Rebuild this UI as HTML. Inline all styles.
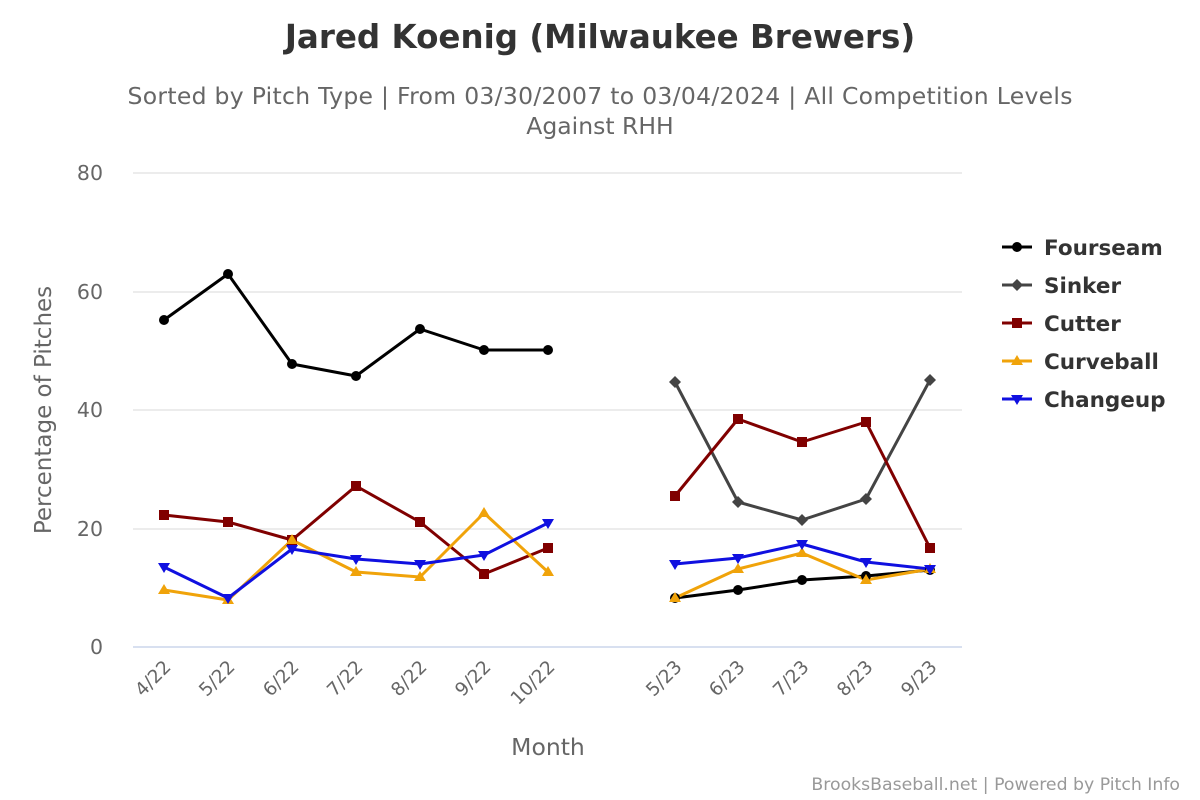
<!DOCTYPE html>
<html><head><meta charset="utf-8"><style>
html,body{margin:0;padding:0;background:#fff;}
svg{display:block;font-family:"DejaVu Sans","Liberation Sans",sans-serif;}
</style></head><body>
<svg width="1200" height="800" viewBox="0 0 1200 800" xmlns="http://www.w3.org/2000/svg">
<rect width="1200" height="800" fill="#fff"/>
<text x="600" y="48" text-anchor="middle" font-size="32.5" font-weight="bold" fill="#333">Jared Koenig (Milwaukee Brewers)</text>
<text x="600" y="104" text-anchor="middle" font-size="23.5" fill="#666" textLength="945">Sorted by Pitch Type | From 03/30/2007 to 03/04/2024 | All Competition Levels</text>
<text x="600" y="134" text-anchor="middle" font-size="23.5" fill="#666">Against RHH</text>
<g stroke="#e6e6e6" stroke-width="1.5">
<line x1="133" x2="962" y1="173" y2="173"/><line x1="133" x2="962" y1="292" y2="292"/>
<line x1="133" x2="962" y1="410" y2="410"/><line x1="133" x2="962" y1="529" y2="529"/>
</g>
<line x1="133" x2="962" y1="647" y2="647" stroke="#ccd6eb" stroke-width="1.5"/>
<g font-size="20.5" fill="#666" text-anchor="end">
<text x="103" y="180">80</text><text x="103" y="299">60</text><text x="103" y="417">40</text><text x="103" y="536">20</text><text x="103" y="654">0</text>
</g>
<text transform="translate(51,410) rotate(-90)" text-anchor="middle" font-size="23" fill="#666">Percentage of Pitches</text>
<text x="548" y="755" text-anchor="middle" font-size="23.5" fill="#666">Month</text>
<g font-size="18.5" fill="#666" text-anchor="end">
<text transform="translate(172,668) rotate(-45)">4/22</text>
<text transform="translate(236,668) rotate(-45)">5/22</text>
<text transform="translate(300,668) rotate(-45)">6/22</text>
<text transform="translate(364,668) rotate(-45)">7/22</text>
<text transform="translate(428,668) rotate(-45)">8/22</text>
<text transform="translate(492,668) rotate(-45)">9/22</text>
<text transform="translate(556,668) rotate(-45)">10/22</text>
<text transform="translate(683,668) rotate(-45)">5/23</text>
<text transform="translate(746,668) rotate(-45)">6/23</text>
<text transform="translate(810,668) rotate(-45)">7/23</text>
<text transform="translate(874,668) rotate(-45)">8/23</text>
<text transform="translate(938,668) rotate(-45)">9/23</text>
</g>
<g fill="none" stroke-width="3" stroke-linejoin="round">
<polyline stroke="#000" points="164,320 228,274 292,364 356,376 420,329 484,350 548,350"/>
<polyline stroke="#000" points="675,598 738,590 802,580 866,576 930,570"/>
<polyline stroke="#444" points="675,382 738,502 802,520 866,499 930,380"/>
<polyline stroke="#800000" points="164,515 228,522 292,540 356,486 420,522 484,574 548,548"/>
<polyline stroke="#800000" points="675,496 738,419 802,442 866,422 930,548"/>
<polyline stroke="#f0a30a" points="164,590 228,600 292,540 356,572 420,577 484,513 548,572"/>
<polyline stroke="#f0a30a" points="675,598 738,569 802,553 866,580 930,569"/>
<polyline stroke="#1010e0" points="164,567 228,598 292,549 356,559 420,564 484,555 548,523"/>
<polyline stroke="#1010e0" points="675,564 738,558 802,544 866,562 930,569"/>
</g>
<g fill="#000">
<circle cx="164" cy="320" r="5"/><circle cx="228" cy="274" r="5"/><circle cx="292" cy="364" r="5"/><circle cx="356" cy="376" r="5"/><circle cx="420" cy="329" r="5"/><circle cx="484" cy="350" r="5"/><circle cx="548" cy="350" r="5"/>
<circle cx="675" cy="598" r="5"/><circle cx="738" cy="590" r="5"/><circle cx="802" cy="580" r="5"/><circle cx="866" cy="576" r="5"/><circle cx="930" cy="570" r="5"/>
</g>
<g fill="#444">
<path d="M675,376 l6,6 -6,6 -6,-6z"/><path d="M738,496 l6,6 -6,6 -6,-6z"/><path d="M802,514 l6,6 -6,6 -6,-6z"/><path d="M866,493 l6,6 -6,6 -6,-6z"/><path d="M930,374 l6,6 -6,6 -6,-6z"/>
</g>
<g fill="#800000">
<rect x="159" y="510" width="10" height="10"/><rect x="223" y="517" width="10" height="10"/><rect x="287" y="535" width="10" height="10"/><rect x="351" y="481" width="10" height="10"/><rect x="415" y="517" width="10" height="10"/><rect x="479" y="569" width="10" height="10"/><rect x="543" y="543" width="10" height="10"/>
<rect x="670" y="491" width="10" height="10"/><rect x="733" y="414" width="10" height="10"/><rect x="797" y="437" width="10" height="10"/><rect x="861" y="417" width="10" height="10"/><rect x="925" y="543" width="10" height="10"/>
</g>
<g fill="#f0a30a">
<path d="M164,584 l6,10 -12,0z"/><path d="M228,594 l6,10 -12,0z"/><path d="M292,534 l6,10 -12,0z"/><path d="M356,566 l6,10 -12,0z"/><path d="M420,571 l6,10 -12,0z"/><path d="M484,507 l6,10 -12,0z"/><path d="M548,566 l6,10 -12,0z"/>
<path d="M675,592 l6,10 -12,0z"/><path d="M738,563 l6,10 -12,0z"/><path d="M802,547 l6,10 -12,0z"/><path d="M866,574 l6,10 -12,0z"/><path d="M930,563 l6,10 -12,0z"/>
</g>
<g fill="#1010e0">
<path d="M164,573 l6,-10 -12,0z"/><path d="M228,604 l6,-10 -12,0z"/><path d="M292,555 l6,-10 -12,0z"/><path d="M356,565 l6,-10 -12,0z"/><path d="M420,570 l6,-10 -12,0z"/><path d="M484,561 l6,-10 -12,0z"/><path d="M548,529 l6,-10 -12,0z"/>
<path d="M675,570 l6,-10 -12,0z"/><path d="M738,564 l6,-10 -12,0z"/><path d="M802,550 l6,-10 -12,0z"/><path d="M866,568 l6,-10 -12,0z"/><path d="M930,575 l6,-10 -12,0z"/>
</g>
<g font-size="21.5" font-weight="bold" fill="#333">
<line x1="1002" x2="1032" y1="247" y2="247" stroke="#000" stroke-width="3"/><circle cx="1017" cy="247" r="5" fill="#000"/><text x="1044" y="255">Fourseam</text>
<line x1="1002" x2="1032" y1="285" y2="285" stroke="#444" stroke-width="3"/><path d="M1017,279 l6,6 -6,6 -6,-6z" fill="#444"/><text x="1044" y="293">Sinker</text>
<line x1="1002" x2="1032" y1="323" y2="323" stroke="#800000" stroke-width="3"/><rect x="1012" y="318" width="10" height="10" fill="#800000"/><text x="1044" y="331">Cutter</text>
<line x1="1002" x2="1032" y1="361" y2="361" stroke="#f0a30a" stroke-width="3"/><path d="M1017,355 l6,10 -12,0z" fill="#f0a30a"/><text x="1044" y="369">Curveball</text>
<line x1="1002" x2="1032" y1="399" y2="399" stroke="#1010e0" stroke-width="3"/><path d="M1017,405 l6,-10 -12,0z" fill="#1010e0"/><text x="1044" y="407">Changeup</text>
</g>
<text x="1180" y="790" text-anchor="end" font-size="17.3" fill="#999">BrooksBaseball.net | Powered by Pitch Info</text>
</svg>
</body></html>
